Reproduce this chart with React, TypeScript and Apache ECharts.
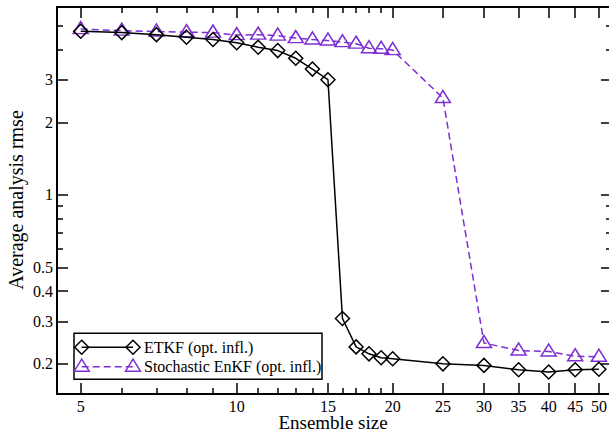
import React, { useEffect, useRef } from 'react';
import * as echarts from 'echarts';

const ensembleSizes = [5, 6, 7, 8, 9, 10, 11, 12, 13, 14, 15, 16, 17, 18, 19, 20, 25, 30, 35, 40, 45, 50];
const etkfRmse = [4.76, 4.7, 4.61, 4.5, 4.4, 4.27, 4.09, 3.96, 3.68, 3.32, 3.0, 0.308, 0.235, 0.22, 0.212, 0.21, 0.2, 0.197, 0.189, 0.185, 0.189, 0.19];
const enkfRmse = [4.86, 4.79, 4.75, 4.72, 4.7, 4.59, 4.61, 4.57, 4.46, 4.4, 4.36, 4.29, 4.23, 4.05, 4.03, 3.98, 2.52, 0.244, 0.227, 0.225, 0.215, 0.214];
const seriesNames = ['ETKF (opt. infl.)', 'Stochastic EnKF (opt. infl.)'];
const xMajorTicks = [5, 10, 15, 20, 25, 30, 35, 40, 45, 50];
const xMinorTicks = [6, 7, 8, 9, 11, 12, 13, 14, 16, 17, 18, 19];
const yMajorTicks = [0.2, 0.3, 0.4, 0.5, 1, 2, 3];
const yMinorTicks = [0.6, 0.7, 0.8, 0.9, 4, 5];
const xTitle = 'Ensemble size';
const yTitle = 'Average analysis rmse';

const FONT = '"Liberation Serif", "Times New Roman", serif';
const PURPLE = '#7d2fd3';

const fmt = (v: number) => String(parseFloat(Number(v).toPrecision(6)));

function makeAxis(dim: 'x' | 'y', position: string, ticks: number[], len: number, labels: boolean, line: boolean) {
  const range = dim === 'x' ? { min: 4.5, max: 53 } : { min: 0.15, max: 6 };
  return {
    type: 'log',
    logBase: 10,
    ...range,
    position,
    axisLine: { show: line, onZero: false, lineStyle: { color: '#000', width: 2 } },
    axisTick: { show: true, inside: true, length: len, customValues: ticks, lineStyle: { color: '#000', width: 1.5 } },
    axisLabel: {
      show: labels,
      customValues: ticks,
      formatter: (v: number) => fmt(v),
      color: '#000',
      fontFamily: FONT,
      fontSize: 16,
      lineHeight: 16,
      margin: dim === 'x' ? 4 : 4,
      hideOverlap: false,
    },
    splitLine: { show: false },
    minorTick: { show: false },
    minorSplitLine: { show: false },
  };
}

export default function App() {
  const ref = useRef<HTMLDivElement>(null);
  useEffect(() => {
    if (!ref.current) return;
    const chart = echarts.init(ref.current, null, { renderer: 'svg' });

    const lx1 = 81.7, lx2 = 133, r1 = 347.3, r2 = 366.7;
    const diamond = (x: number, y: number) => ({
      type: 'polygon',
      shape: { points: [[x, y - 7], [x + 7, y], [x, y + 7], [x - 7, y]] },
      style: { fill: 'none', stroke: '#000', lineWidth: 1.5 },
    });
    const triangle = (x: number, y: number) => ({
      type: 'polygon',
      shape: { points: [[x, y - 7.5], [x + 7.5, y + 4.5], [x - 7.5, y + 4.5]] },
      style: { fill: 'none', stroke: PURPLE, lineWidth: 1.5 },
    });

    chart.setOption({
      animation: false,
      backgroundColor: '#fff',
      grid: { left: 57, right: -3, top: 7, bottom: 38, containLabel: false, outerBoundsMode: 'none' },
      xAxis: [
        makeAxis('x', 'bottom', xMajorTicks, 11, true, true),
        makeAxis('x', 'bottom', xMinorTicks, 6, false, false),
        makeAxis('x', 'top', xMajorTicks, 11, false, true),
        makeAxis('x', 'top', xMinorTicks, 6, false, false),
      ],
      yAxis: [
        makeAxis('y', 'left', yMajorTicks, 11, true, true),
        makeAxis('y', 'left', yMinorTicks, 6, false, false),
        makeAxis('y', 'right', yMajorTicks, 11, false, true),
        makeAxis('y', 'right', yMinorTicks, 6, false, false),
      ],
      series: [
        {
          name: seriesNames[0],
          type: 'line',
          xAxisIndex: 0,
          yAxisIndex: 0,
          data: ensembleSizes.map((x, i) => [x, etkfRmse[i]]),
          symbol: 'diamond',
          symbolSize: 14,
          showAllSymbol: true,
          lineStyle: { color: '#000', width: 1.5 },
          itemStyle: { color: 'rgba(0,0,0,0)', borderColor: '#000', borderWidth: 1.5 },
          z: 3,
        },
        {
          name: seriesNames[1],
          type: 'line',
          xAxisIndex: 0,
          yAxisIndex: 0,
          data: ensembleSizes.map((x, i) => [x, enkfRmse[i]]),
          symbol: 'triangle',
          symbolSize: [15, 12],
          symbolOffset: [0, -1.5],
          showAllSymbol: true,
          lineStyle: { color: PURPLE, width: 1.5, type: [7, 4] },
          itemStyle: { color: 'rgba(0,0,0,0)', borderColor: PURPLE, borderWidth: 1.5 },
          z: 2,
        },
      ],
      graphic: [
        {
          type: 'text',
          x: 16,
          y: 200,
          rotation: Math.PI / 2,
          style: { text: yTitle, font: `20px ${FONT}`, fill: '#000', textAlign: 'center', textVerticalAlign: 'middle' },
        },
        {
          type: 'text',
          x: 333,
          y: 431.5,
          style: { text: xTitle, fontFamily: FONT, fontSize: 19, lineHeight: 18, fill: '#000', align: 'center', verticalAlign: 'bottom' },
        },
        {
          type: 'group',
          children: [
            { type: 'rect', shape: { x: 74, y: 333.3, width: 248, height: 46 }, style: { fill: '#fff', stroke: '#000', lineWidth: 1.5 } },
            { type: 'line', shape: { x1: lx1, y1: r1, x2: lx2, y2: r1 }, style: { stroke: '#000', lineWidth: 1.5 } },
            diamond(lx1, r1),
            diamond(lx2, r1),
            { type: 'text', x: 144, y: r1, style: { text: seriesNames[0], font: `16px ${FONT}`, fill: '#000', textVerticalAlign: 'middle' } },
            { type: 'line', shape: { x1: lx1, y1: r2, x2: lx2, y2: r2 }, style: { stroke: PURPLE, lineWidth: 1.5, lineDash: [7, 4] } },
            triangle(lx1, r2),
            triangle(lx2, r2),
            { type: 'text', x: 144, y: r2, style: { text: seriesNames[1], font: `16px ${FONT}`, fill: '#000', textVerticalAlign: 'middle' } },
          ],
        },
      ],
    });
    return () => chart.dispose();
  }, []);
  return <div ref={ref} style={{ position: 'fixed', left: 0, top: 0, width: 609, height: 432, background: '#fff' }} />;
}
